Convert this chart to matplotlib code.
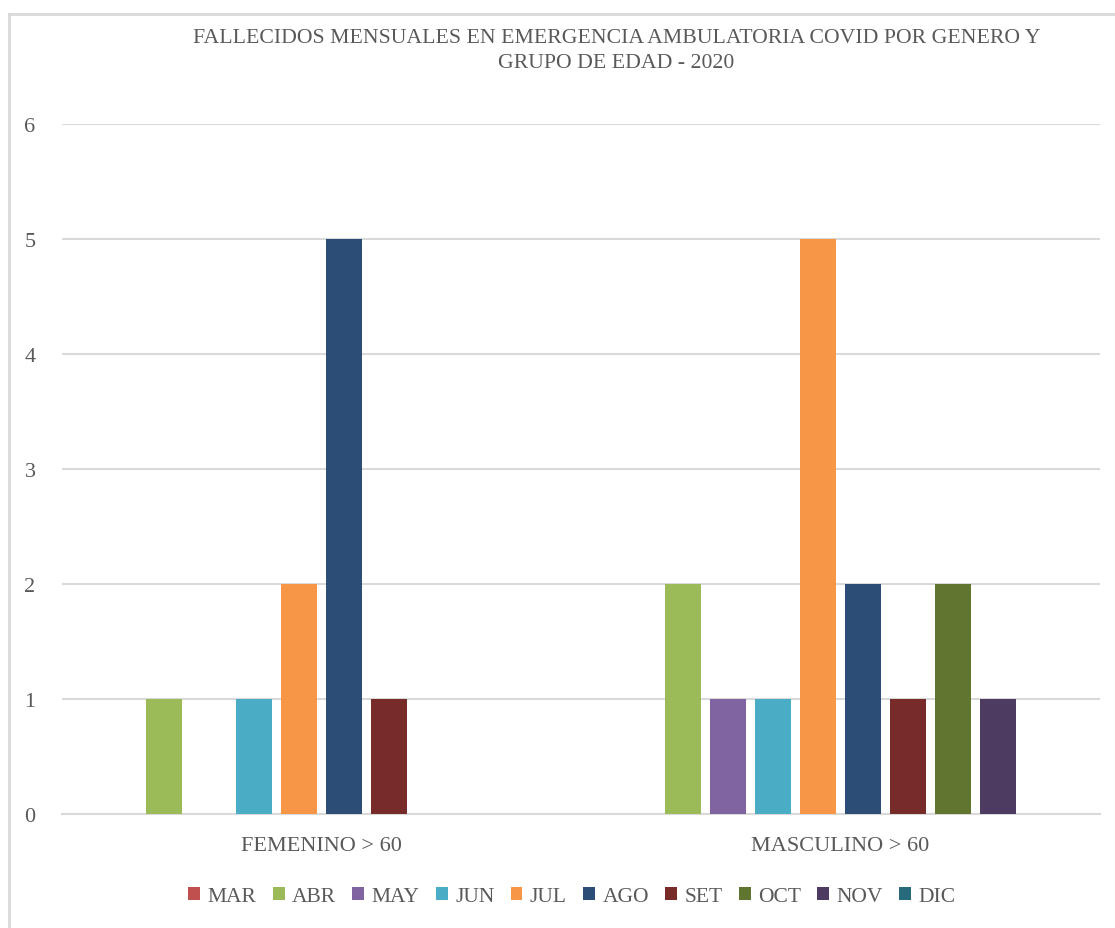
import numpy as np
import matplotlib
matplotlib.use("Agg")
import matplotlib.pyplot as plt
from matplotlib.lines import Line2D

categories = ["FEMENINO > 60", "MASCULINO > 60"]
months = ["MAR", "ABR", "MAY", "JUN", "JUL", "AGO", "SET", "OCT", "NOV", "DIC"]
femenino = [0, 1, 0, 1, 2, 5, 1, 0, 0, 0]
masculino = [0, 2, 1, 1, 5, 2, 1, 2, 1, 0]
colors = ["#C0504D", "#9BBB59", "#8064A2", "#4BACC6", "#F79646",
          "#2C4D75", "#772C2A", "#5F7530", "#4D3B62", "#276A7C"]

plt.rcParams['font.family'] = ['Liberation Serif', 'DejaVu Serif']
text_color = "#595959"

fig = plt.figure(figsize=(11.15, 9.29), dpi=100)
ax = fig.add_axes([0.0556, 0.1227, 0.9309, 0.7427])

x = np.arange(len(categories))
slot = 45 / 519
width = 36 / 519
for i, m in enumerate(months):
    vals = [femenino[i], masculino[i]]
    ax.bar(x + (i - 4.5) * slot, vals, width, color=colors[i], label=m, zorder=3)

ax.set_xlim(-0.5, 1.5)
ax.set_ylim(0, 6)
ax.set_yticks(range(0, 7))
ax.set_xticks(x)
ax.set_xticklabels(categories)
ax.tick_params(axis='y', length=0, labelsize=16, colors=text_color, pad=19)
ax.tick_params(axis='x', length=0, labelsize=16, colors=text_color, pad=16)
ax.grid(axis='y', color="#D9D9D9", linewidth=1.5, zorder=0)
for s in ["top", "right", "left"]:
    ax.spines[s].set_visible(False)
ax.spines["bottom"].set_color("#D9D9D9")
ax.spines["bottom"].set_linewidth(1.5)

fig.text(0.553, 0.945, "FALLECIDOS MENSUALES EN EMERGENCIA AMBULATORIA COVID POR GENERO Y\nGRUPO DE EDAD - 2020",
         ha='center', va='center', fontsize=15.7, color=text_color, linespacing=1.45)

fig.legend(loc='center', bbox_to_anchor=(0.513, 0.034), ncol=10, frameon=False,
           fontsize=15.5, labelcolor=text_color, handlelength=0.55, handleheight=0.55,
           handletextpad=0.35, columnspacing=0.75)

# chart border (left and top)
fig.add_artist(Line2D([8.5 / 1115, 8.5 / 1115], [0, 1 - 15 / 929], color="#D9D9D9", linewidth=2))
fig.add_artist(Line2D([8.5 / 1115, 1], [1 - 15 / 929, 1 - 15 / 929], color="#D9D9D9", linewidth=2))

fig.savefig("out.png", dpi=100, facecolor="white")
